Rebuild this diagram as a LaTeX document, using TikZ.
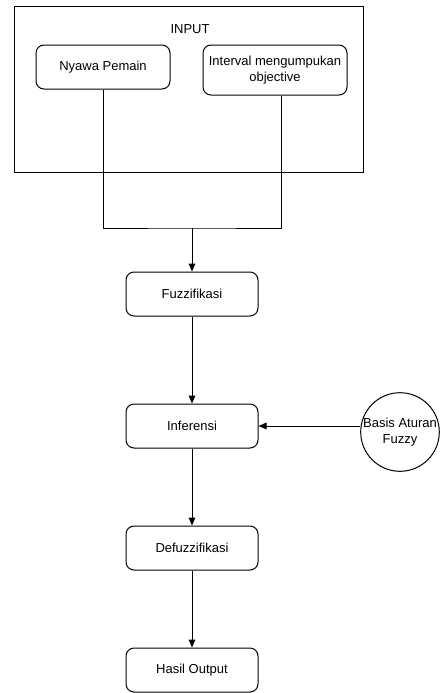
\documentclass[tikz,border=0pt]{standalone}
\usepackage{fontspec}
\setmainfont{Liberation Sans}
\usetikzlibrary{arrows.meta}

\begin{document}
\begin{tikzpicture}[x=0.75pt, y=-0.75pt, line width=0.75pt, font=\fontsize{9.75}{11.5}\selectfont,
        langkah/.style={draw, rounded corners=6pt, minimum width=99pt, minimum height=33pt, align=center},
        panah/.style={-{Triangle[length=6pt, width=5pt]}}]
            \useasboundingbox (0, 0) rectangle (442, 693);
            % kotak input
            \node[draw, minimum width=261.75pt, minimum height=124.5pt] (input) at (188.5, 89) {};
            \node (inputlabel) at (190, 29) {INPUT};
            \node[langkah, minimum width=100.5pt] (nyawa) at (103, 67) {Nyawa Pemain};
            \node[langkah, minimum width=108pt, minimum height=37.5pt, inner xsep=1pt] (interval) at (275, 70) {Interval mengumpukan\\objective};
            \coordinate (gabung) at (192, 228);
            % alur proses
            \node[langkah] (fuzz) at (192, 294) {Fuzzifikasi};
            \node[langkah] (inferensi) at (192, 426) {Inferensi};
            \node[langkah] (defuzz) at (192, 548) {Defuzzifikasi};
            \node[langkah] (hasil) at (192, 670) {Hasil Output};
            \node[draw, circle, minimum size=57.75pt, inner sep=0pt, align=center] (basis) at (400, 432) {Basis Aturan\\Fuzzy};
            \draw (nyawa.south) |- (gabung) -| ([xshift=4.5pt]interval.south);
            \draw[panah] (gabung) -- (fuzz.north);
            \draw[panah] (fuzz) -- (inferensi);
            \draw[panah] (basis.west |- inferensi) -- (inferensi.east);
            \draw[panah] (inferensi) -- (defuzz);
            \draw[panah] (defuzz) -- (hasil);
    \end{tikzpicture}
\end{document}
